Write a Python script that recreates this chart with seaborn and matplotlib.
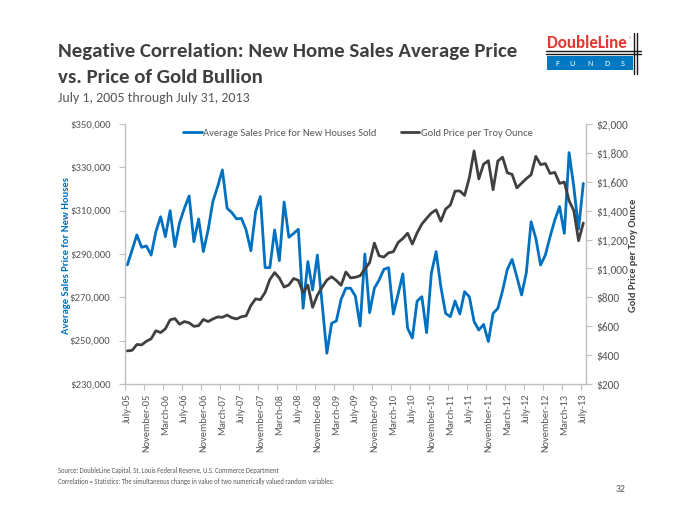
import numpy as np
import pandas as pd
import matplotlib
matplotlib.use("Agg")
import matplotlib.pyplot as plt
import seaborn as sns
from matplotlib import font_manager as fm
from matplotlib.patches import Rectangle
from matplotlib.lines import Line2D

# ---------------- data ----------------
tick_labels = ["July-05", "November-05", "March-06", "July-06", "November-06", "March-07",
               "July-07", "November-07", "March-08", "July-08", "November-08", "March-09",
               "July-09", "November-09", "March-10", "July-10", "November-10", "March-11",
               "July-11", "November-11", "March-12", "July-12", "November-12", "March-13",
               "July-13"]

home_price = [285000, 291900, 298800, 293100, 293700, 289500, 300300, 307200, 298000, 310000,
              293400, 304500, 311100, 316800, 295700, 306200, 291100, 301100, 314200, 321100,
              328800, 311100, 309100, 306200, 306500, 301100, 291500, 309500, 316500, 283700,
              283700, 301100, 286900, 314000, 297700, 299500, 301400, 265000, 286500, 273400,
              289500, 267200, 244200, 258000, 259100, 269100, 274200, 274200, 270600, 256800,
              290000, 262900, 274200, 278000, 282900, 283700, 262300, 271500, 280800, 255700,
              251200, 268200, 270300, 253700, 281100, 291100, 274900, 262600, 261100, 268300,
              262300, 272600, 270300, 258800, 254900, 257500, 249600, 262600, 264900, 273100,
              282900, 287500, 279500, 271100, 281400, 304900, 297200, 284900, 289500, 298000,
              305700, 311900, 299500, 336800, 320900, 301500, 322600]

gold_price = [429.0, 433.3, 473.3, 470.8, 495.7, 513.0,
              568.8, 556.0, 582.0, 644.0, 653.0, 613.5, 632.5, 623.5, 599.3, 603.8, 646.7, 632.0,
              650.5, 664.2, 661.8, 677.0, 659.1, 650.5, 665.5, 672.0, 743.0, 789.5, 783.5, 833.8,
              923.3, 971.5, 933.5, 871.0, 885.8, 930.3, 918.0, 833.0, 884.5, 730.8, 814.5, 869.8,
              919.5, 942.5, 916.5, 883.3, 975.5, 934.5, 939.0, 949.5, 995.8, 1040.0, 1175.8, 1087.5,
              1078.5, 1108.3, 1115.5, 1179.3, 1207.5, 1244.0, 1169.0, 1246.0, 1307.0, 1346.8, 1383.5, 1405.5,
              1327.0, 1411.0, 1439.0, 1535.5, 1536.5, 1505.5, 1628.5, 1813.5, 1620.0, 1722.0, 1746.0, 1545.0,
              1744.0, 1770.0, 1662.5, 1651.3, 1558.0, 1590.0, 1622.0, 1648.5, 1776.0, 1719.0, 1726.0, 1657.5,
              1664.8, 1588.5, 1598.3, 1469.0, 1400.0, 1192.0, 1314.5]

series_names = ["Average Sales Price for New Houses Sold", "Gold Price per Troy Ounce"]

# ---------------- style ----------------
BLUE = "#0070C0"
DARK = "#404040"
GRAY = "#595959"
SPINE = "#BFBFBF"
LW = 2.0

sns.set_theme(style="white")
avail = {f.name for f in fm.fontManager.ttflist}
FONT = "Carlito" if "Carlito" in avail else "Lato"
plt.rcParams["font.family"] = [FONT, "DejaVu Sans"]

W, H = 700, 525
fig = plt.figure(figsize=(7, 5.25), dpi=100)
fig.patch.set_facecolor("white")


def fx(x):
    return x / W


def fy(y):
    return 1 - y / H


L, R, T, B = 125, 585.7, 124, 384
ax = fig.add_axes([fx(L), fy(B), (R - L) / W, (B - T) / H])
ax2 = ax.twinx()

df = pd.DataFrame({"month": np.arange(len(home_price)),
                   "home": home_price, "gold": gold_price})

sns.lineplot(data=df, x="month", y="home", ax=ax, color=BLUE, linewidth=LW, legend=False)
sns.lineplot(data=df, x="month", y="gold", ax=ax2, color=DARK, linewidth=LW, legend=False)

ax.set_xlim(-0.5, len(home_price) - 0.5)
ax.set_ylim(230000, 350000)
ax2.set_ylim(200, 2000)
ax.set_xlabel("")
ax.set_ylabel("")
ax2.set_ylabel("")

yl = np.arange(230000, 350001, 20000)
ax.set_yticks(yl)
ax.set_yticklabels([f"${v:,.0f}" for v in yl])
yr = np.arange(200, 2001, 200)
ax2.set_yticks(yr)
ax2.set_yticklabels([f"${v:,.0f}" for v in yr])

ax.set_xticks(np.arange(0, len(home_price), 4))
ax.set_xticklabels(tick_labels, rotation=90)
ax.set_xticks(np.arange(-0.5, len(home_price), 4), minor=True)

for s in ["top", "right"]:
    ax.spines[s].set_visible(False)
for s in ["top", "left", "bottom"]:
    ax2.spines[s].set_visible(False)
for a, s in [(ax, "left"), (ax, "bottom"), (ax2, "right")]:
    a.spines[s].set_color(SPINE)
    a.spines[s].set_linewidth(1.0)
ax.grid(False)
ax2.grid(False)

ax.tick_params(axis="x", which="major", length=0, pad=7.0, labelcolor=GRAY)
ax.tick_params(axis="x", which="minor", length=4, width=0.8, color=SPINE, bottom=True)
ax.tick_params(axis="y", which="major", left=True, length=4, width=0.8, color=SPINE,
               pad=6.5, labelcolor=GRAY)
ax2.tick_params(axis="y", which="major", right=True, length=4, width=0.8, color=SPINE,
                pad=3.5, labelcolor=GRAY)

renderer = fig.canvas.get_renderer()


def scale_for(text_obj, target, dim="w"):
    bb = text_obj.get_window_extent(renderer)
    cur = bb.width if dim == "w" else bb.height
    return text_obj.get_fontsize() * target / cur


# tick label sizes
fig.canvas.draw()
s_y = scale_for(ax.get_yticklabels()[-1], 41)
ax.tick_params(axis="y", labelsize=s_y)
s_y2 = scale_for(ax2.get_yticklabels()[-1], 32)
ax2.tick_params(axis="y", labelsize=s_y2)
s_x = scale_for(ax.get_xticklabels()[1], 58, "h")
ax.tick_params(axis="x", labelsize=s_x)

# axis titles
yl_left = fig.text(fx(66.5), fy(255.5), "Average Sales Price for New Houses", rotation=90,
                   ha="center", va="center", color=BLUE, fontweight="bold", fontsize=8)
yl_left.set_fontsize(scale_for(yl_left, 156, "h"))
yl_right = fig.text(fx(634), fy(255), "Gold Price per Troy Ounce", rotation=90,
                    ha="center", va="center", color=DARK, fontweight="bold", fontsize=8)
yl_right.set_fontsize(scale_for(yl_right, 113, "h"))

# titles
t1 = fig.text(fx(58), fy(57), "Negative Correlation: New Home Sales Average Price",
              ha="left", va="baseline", color="#3F3F3F", fontweight="bold", fontsize=15)
ts = scale_for(t1, 460)
t1.set_fontsize(ts)
fig.text(fx(58), fy(83), "vs. Price of Gold Bullion", ha="left", va="baseline",
         color="#3F3F3F", fontweight="bold", fontsize=ts)
st = fig.text(fx(58), fy(102), "July 1, 2005 through July 31, 2013", ha="left",
              va="baseline", color=GRAY, fontsize=10)
st.set_fontsize(scale_for(st, 192))

# legend
tmp = fig.text(0, 0, series_names[0], fontsize=8)
lfs = scale_for(tmp, 173)
tmp.remove()
lpx = lfs * 100 / 72
handles = [Line2D([], [], color=BLUE, lw=LW), Line2D([], [], color=DARK, lw=LW)]
leg = fig.legend(handles, series_names, loc="center", bbox_to_anchor=(fx(358), fy(133.3)),
                 ncol=2, frameon=False, fontsize=lfs, handlelength=18.7 / lpx,
                 handletextpad=0.15, columnspacing=24 / lpx, borderpad=0, borderaxespad=0)
for t in leg.get_texts():
    t.set_color(GRAY)

# footnotes
f1 = fig.text(fx(58), fy(473), "Source: DoubleLine Capital, St. Louis Federal Reserve, U.S. Commerce Department",
              ha="left", va="baseline", color=GRAY, fontsize=5)
fs_foot = scale_for(f1, 227)
f1.set_fontsize(fs_foot)
fig.text(fx(58), fy(484), "Correlation = Statistics: The simultaneous change in value of two numerically valued random variables:",
         ha="left", va="baseline", color=GRAY, fontsize=fs_foot)
fig.text(fx(621), fy(490), "32", ha="center", va="center", color=GRAY, fontsize=7)

# logo
RED = "#E2372E"
LBLUE = "#0079C2"
lg = fig.text(fx(547), fy(48.5), "DoubleLine", ha="left", va="baseline", color=RED,
              fontweight="bold", fontsize=12)
lg.set_fontsize(scale_for(lg, 80))
fig.text(fx(628.5), fy(40), "\u00ae", ha="left", va="center", color=RED, fontsize=4)
fig.patches.append(Rectangle((fx(547), fy(70)), (633 - 547) / W, (70 - 56) / H,
                             transform=fig.transFigure, facecolor=LBLUE, edgecolor="none"))
for yy in (51, 54):
    fig.lines.append(Line2D([fx(546), fx(641)], [fy(yy), fy(yy)], transform=fig.transFigure,
                            color="#1a1a1a", lw=1.0))
for xx in (633.5, 637):
    fig.lines.append(Line2D([fx(xx), fx(xx)], [fy(33), fy(74)], transform=fig.transFigure,
                            color="#1a1a1a", lw=1.0))
for ch, xx in zip("FUNDS", (557, 572, 590, 607, 623)):
    fig.text(fx(xx), fy(63), ch, ha="center", va="center", color="white", fontsize=6)

fig.savefig("out.png", dpi=100, facecolor="white")
